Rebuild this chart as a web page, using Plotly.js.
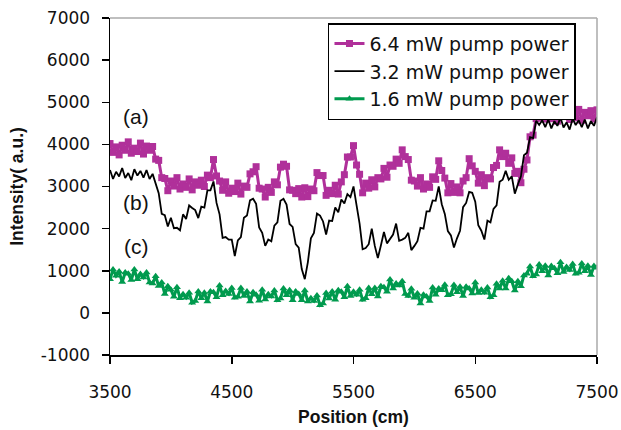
<!DOCTYPE html>
<html>
<head>
<meta charset="utf-8">
<script src="https://cdn.plot.ly/plotly-3.0.1.min.js"></script>
<style>html,body{margin:0;padding:0;background:#fff;}#chart{width:621px;height:430px;}</style>
</head>
<body>
<div id="chart"></div>
<script>
// Position (cm)
const positions = [
  3500,3525,3550,3575,3600,3625,3650,3675,3700,3725,
  3750,3775,3800,3825,3850,3875,3900,3925,3950,3975,
  4000,4025,4050,4075,4100,4125,4150,4175,4200,4225,
  4250,4275,4300,4325,4350,4375,4400,4425,4450,4475,
  4500,4525,4550,4575,4600,4625,4650,4675,4700,4725,
  4750,4775,4800,4825,4850,4875,4900,4925,4950,4975,
  5000,5025,5050,5075,5100,5125,5150,5175,5200,5225,
  5250,5275,5300,5325,5350,5375,5400,5425,5450,5475,
  5500,5525,5550,5575,5600,5625,5650,5675,5700,5725,
  5750,5775,5800,5825,5850,5875,5900,5925,5950,5975,
  6000,6025,6050,6075,6100,6125,6150,6175,6200,6225,
  6250,6275,6300,6325,6350,6375,6400,6425,6450,6475,
  6500,6525,6550,6575,6600,6625,6650,6675,6700,6725,
  6750,6775,6800,6825,6850,6875,6900,6925,6950,6975,
  7000,7025,7050,7075,7100,7125,7150,7175,7200,7225,
  7250,7275,7300,7325,7350,7375,7400,7425,7450,7475,
  7500
];
// (a) 6.4 mW pump power
const pump64 = [
  4020,3810,3940,3750,3980,3860,4060,3790,3910,3830,
  4030,3770,3960,3860,3950,3650,3620,3210,3190,2900,
  3130,3010,3210,2940,3060,2980,3180,2920,3110,3030,
  3150,3000,3270,3210,3640,3250,3130,2910,3110,2840,
  2960,2880,3080,2820,3010,2980,3300,3350,3470,2960,
  2940,2750,2980,2860,3110,3040,3460,3530,3480,2920,
  2910,2830,2950,2750,2970,2760,2940,2900,3330,3260,
  3260,2790,2910,2830,3030,2820,3110,3280,3700,3700,
  3970,3510,3290,2850,3080,2960,3160,2990,3210,3180,
  3430,3220,3510,3480,3650,3550,3870,3710,3640,3150,
  3130,3010,3210,2940,3060,2980,3230,3170,3610,3380,
  3200,2850,3070,2860,2990,2850,3130,3210,3660,3490,
  3360,3080,3280,3020,3210,3180,3450,3500,3870,3710,
  3790,3550,3680,3310,3360,3090,3410,3630,4180,4220,
  4610,4630,4800,4600,4820,4610,4740,4550,4780,4660,
  4860,4590,4710,4630,4830,4570,4760,4680,4800,4600,
  4820
];
// (b) 3.2 mW pump power
const pump32 = [
  3390,3180,3350,3240,3440,3200,3320,3150,3410,3260,
  3370,3210,3390,3180,3300,3040,2840,2350,2320,2050,
  2260,2010,2020,1960,2340,2230,2550,2490,2440,2250,
  2520,2500,2910,2910,3120,2610,2340,1780,1800,1740,
  1740,1350,1720,1800,2260,2310,2670,2710,2590,2030,
  1900,1590,1740,1700,2070,2150,2660,2710,2570,2110,
  2040,1630,1550,1040,800,1200,1770,1900,2360,2310,
  2170,1860,2190,2180,2500,2390,2690,2600,2820,2750,
  3000,2560,2120,1510,1540,1630,2000,1590,1300,1600,
  1920,1650,1760,1860,2120,1710,1740,1780,1900,1490,
  1590,1700,2020,2000,2410,2410,2670,2660,3000,2580,
  2350,1940,1840,1550,1770,1950,2510,2610,2870,2850,
  2640,2080,1950,1740,2190,2150,2470,2550,3110,3160,
  3370,3160,3240,2830,3050,3240,3740,3800,4170,4150,
  4560,4460,4570,4410,4590,4380,4550,4440,4640,4400,
  4520,4350,4610,4460,4570,4410,4590,4380,4550,4440,
  4640
];
// (c) 1.6 mW pump power
const pump16 = [
  800,1030,880,980,730,960,930,780,1030,800,
  920,840,960,720,700,870,640,720,450,630,
  550,380,610,350,440,360,480,240,280,510,
  350,480,270,510,490,370,650,420,520,450,
  590,360,380,590,400,510,270,490,430,290,
  550,320,440,390,530,300,340,580,420,540,
  300,510,450,300,530,270,350,280,410,180,
  220,470,340,510,310,540,500,370,630,400,
  500,430,550,310,350,590,440,590,390,630,
  610,500,790,580,700,650,750,450,400,570,
  360,460,220,430,390,280,600,430,580,540,
  670,420,440,660,490,620,400,620,580,460,
  720,470,550,480,600,370,420,690,580,760,
  580,820,750,530,750,630,890,930,1100,870,
  910,1150,990,1120,890,1110,1060,940,1200,970,
  1090,1020,1160,930,950,1170,990,1120,900,1110,
  1070
];
const seriesNames = ['6.4 mW pump power', '3.2 mW pump power', '1.6 mW pump power'];
const xTicks = [3500, 4500, 5500, 6500, 7500];
const yTicks = [-1000, 0, 1000, 2000, 3000, 4000, 5000, 6000, 7000];
const curveLabels = ['(a)', '(b)', '(c)'];
const curveLabelX = [3714, 3714, 3714];
const curveLabelY = [4655, 2612, 1567];

const MAGENTA = '#B0309A';
const GREEN = '#009A4E';
const tickFont = {family: 'DejaVu Sans, sans-serif', size: 17, color: '#111'};
const titleFont = {family: 'Liberation Sans, Arial, sans-serif', size: 17.5, color: '#111', weight: 'bold'};

const traces = [
  {x: positions, y: pump64, name: seriesNames[0], type: 'scatter', mode: 'lines+markers',
   line: {color: MAGENTA, width: 3}, marker: {symbol: 'square', size: 7, color: MAGENTA}},
  {x: positions, y: pump32, name: seriesNames[1], type: 'scatter', mode: 'lines',
   line: {color: '#000', width: 1.8}},
  {x: positions, y: pump16, name: seriesNames[2], type: 'scatter', mode: 'lines+markers',
   line: {color: GREEN, width: 3}, marker: {symbol: 'triangle-up', size: 7, color: GREEN}}
];

const layout = {
  width: 621, height: 430,
  margin: {l: 110, r: 24, t: 18, b: 75},
  paper_bgcolor: '#fff', plot_bgcolor: '#fff',
  showlegend: true,
  legend: {x: 0.4476, xanchor: 'left', y: 0.985, yanchor: 'top',
    bgcolor: '#fff', bordercolor: '#000', borderwidth: 1.5,
    font: {family: 'DejaVu Sans, sans-serif', size: 19, color: '#111'},
    tracegroupgap: 0},
  xaxis: {range: [3500, 7500], tickvals: xTicks, ticktext: xTicks.map(String),
    ticks: 'outside', ticklen: 7, tickwidth: 1.5, tickcolor: '#000',
    showline: true, linecolor: '#000', linewidth: 1.5, showgrid: false, zeroline: false,
    tickfont: tickFont, ticklabelstandoff: 14,
    title: {text: 'Position (cm)', font: titleFont, standoff: 10}},
  yaxis: {range: [-1000, 7000], tickvals: yTicks, ticktext: yTicks.map(String),
    ticks: 'outside', ticklen: 7, tickwidth: 1.5, tickcolor: '#000',
    showline: true, linecolor: '#000', linewidth: 1.5, showgrid: false, zeroline: false,
    tickfont: tickFont, ticklabelstandoff: 8,
    title: {text: 'Intensity( a.u.)', font: titleFont, standoff: 12}},
  shapes: [
    {type: 'line', xref: 'paper', yref: 'paper', x0: 0, x1: 1, y0: 1, y1: 1, line: {color: '#aaa', width: 1.5}},
    {type: 'line', xref: 'paper', yref: 'paper', x0: 1, x1: 1, y0: 0, y1: 1, line: {color: '#aaa', width: 1.5}}
  ],
  annotations: curveLabels.map((t, i) => ({
    x: curveLabelX[i], y: curveLabelY[i], xref: 'x', yref: 'y', text: t, showarrow: false,
    font: {family: 'Liberation Sans, Arial, sans-serif', size: 21, color: '#111'}
  }))
};

Plotly.newPlot('chart', traces, layout, {displayModeBar: false, staticPlot: true});
</script>
</body>
</html>
